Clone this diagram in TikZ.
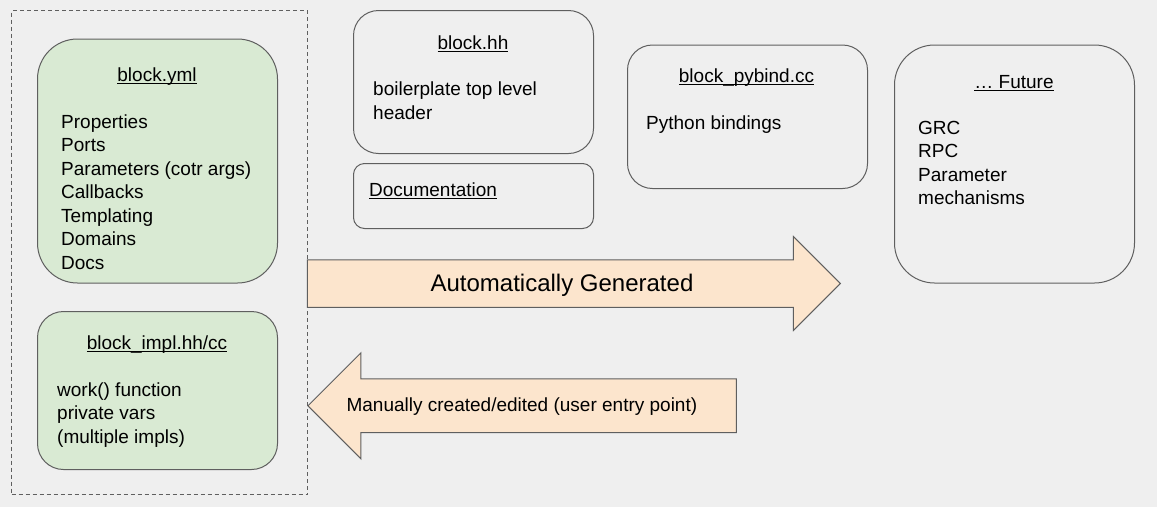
\documentclass[tikz,border=0pt]{standalone}
\usepackage{fontspec}
\setmainfont{Liberation Sans}
\usepackage{tikz}
\usetikzlibrary{shapes.arrows}
\definecolor{bggray}{HTML}{EFEFEF}
\definecolor{edgegray}{HTML}{5F5F5F}
\definecolor{ymlgreen}{HTML}{D9EAD3}
\definecolor{genorange}{HTML}{FCE5CD}
\newcommand\ulin[1]{\setbox0\hbox{#1}\rlap{\rule[-2.6pt]{\wd0}{1.1pt}}\box0}
\tikzset{
  filebox/.style={rectangle, draw=edgegray, line width=1pt, minimum width=240pt, inner sep=0pt, anchor=north west},
  title/.style={anchor=base, inner sep=0pt, font=\fontsize{19}{23.5}\selectfont},
  items/.style={anchor=base west, align=left, inner sep=0pt, font=\fontsize{19}{23.5}\selectfont},
  bigarrow/.style={single arrow, draw=edgegray, line width=1pt, fill=genorange, inner xsep=0pt, single arrow head indent=0pt}
}

\begin{document}
\begin{tikzpicture}[x=1pt, y=-1pt]

\useasboundingbox[fill=bggray] (0,0) rectangle (1157,507);

\node at (11,10) [rectangle, draw=edgegray, line width=1pt, dash pattern=on 4pt off 3pt, minimum width=296pt, minimum height=484pt, anchor=north west] (hand) {};

% multi-line texts sit on the baseline of their last line
\node at (37,38.5) [filebox, fill=ymlgreen, minimum height=244pt, rounded corners=40pt] (yml) {};
\node [title] at (157,81) (ymltitle) {\ulin{block.yml}};
\node [items] at (61,269) (ymlitems) {Properties\\Ports\\Parameters (cotr args)\\Callbacks\\Templating\\Domains\\Docs};

\node at (37,311) [filebox, fill=ymlgreen, minimum height=158pt, rounded corners=26pt] (impl) {};
\node [title] at (157,349) (impltitle) {\ulin{block\_impl.hh/cc}};
\node [items] at (57,443) (implitems) {work() function\\private vars\\(multiple impls)};

\node at (353,10) [filebox, minimum height=143pt, rounded corners=25pt] (hh) {};
\node [title] at (473,49) (hhtitle) {\ulin{block.hh}};
\node [items] at (373,119.3) (hhitems) {boilerplate top level\\header};

\node at (353,163) [filebox, minimum height=65pt, rounded corners=11pt] (doc) {};
\node [items] at (369,196.5) (doctitle) {\ulin{Documentation}};

\node at (627,44.5) [filebox, minimum height=143.5pt, rounded corners=25pt] (pybind) {};
\node [title] at (746.5,82.5) (pybindtitle) {\ulin{block\_pybind.cc}};
\node [items] at (646,129.3) (pybinditems) {Python bindings};

\node at (894,44.5) [filebox, minimum height=238pt, rounded corners=40pt] (future) {};
\node [title] at (1014,88.3) (futuretitle) {\ulin{… Future}};
\node [items] at (918,204.5) (futureitems) {GRC\\RPC\\Parameter\\mechanisms};

% arrow centre is not the middle of its length
\node at (562,283.5) [bigarrow, minimum height=533pt, inner ysep=23.25pt, single arrow head extend=23.25pt] (auto) {};
\node [anchor=base, inner sep=0pt, font=\fontsize{24}{28}\selectfont] at (562,291.7) (autotext) {Automatically Generated};

\node at (535.6,405.8) [bigarrow, shape border rotate=180, minimum height=428.4pt, inner ysep=26.4pt, single arrow head extend=26.1pt] (manual) {};
\node [items] at (346.4,411.7) (manualtext) {Manually created/edited (user entry point)};

\end{tikzpicture}
\end{document}
